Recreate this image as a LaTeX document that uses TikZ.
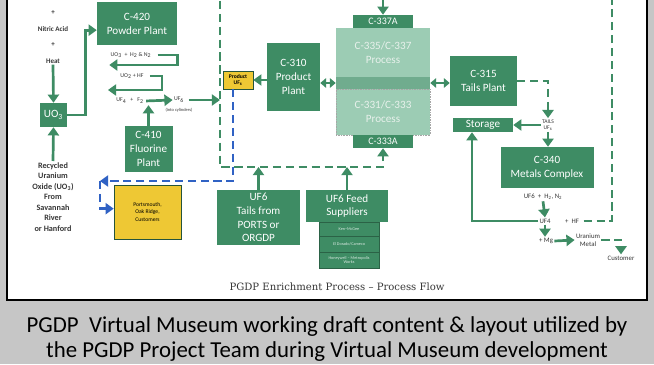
\documentclass[tikz,border=0pt]{standalone}
\usepackage{fontspec}
\setmainfont{Carlito}
\setsansfont{Carlito}
\newfontfamily\slabfont{DejaVu Serif}
\usetikzlibrary{arrows.meta,calc}
\definecolor{pggreen}{RGB}{62,140,100}
\definecolor{pglight}{RGB}{156,204,180}
\definecolor{pgband}{RGB}{112,172,142}
\definecolor{pgyel}{RGB}{238,200,52}
\definecolor{pgblue}{RGB}{48,98,196}
\definecolor{pgback}{RGB}{198,198,198}
\definecolor{pgink}{RGB}{55,55,55}
\tikzset{
  gbox/.style={
    fill=pggreen, text=white, align=center, inner sep=0pt,
    font=\fontsize{9.5}{12}\selectfont
  },
  pbox/.style={gbox, fill=pglight, text=white!88!pggreen},
  sbox/.style={
    gbox, draw=pggreen!70!black, line width=0.4pt, text=white!80!pggreen,
    minimum width=18mm, font=\fontsize{3.6}{4}\selectfont
  },
  ybox/.style={
    fill=pgyel, draw=pggreen!60!black, line width=0.5pt, align=center,
    inner sep=0pt, font=\fontsize{4.8}{6.4}\selectfont
  },
  lbl/.style={text=pgink, align=center, inner sep=1pt, font=\bfseries\fontsize{6}{7}\selectfont},
  chem/.style={text=pgink, align=center, inner sep=1pt, font=\fontsize{5}{5.6}\selectfont},
  mchem/.style={chem, font=\fontsize{5.8}{6.6}\selectfont},
  arr/.style={-{Triangle[length=7pt,width=9.5pt]}, draw=pggreen, line width=2.3pt},
  darr/.style={arr, dash pattern=on 7pt off 4pt},
  dline/.style={draw=pggreen, line width=2.3pt, dash pattern=on 7pt off 4pt},
  barr/.style={-{Triangle[length=7pt,width=9.5pt]}, draw=pgblue, line width=2.3pt, dash pattern=on 7pt off 4pt},
  xarr/.style={{Triangle[length=5pt,width=8pt]}-{Triangle[length=5pt,width=8pt]}, draw=pggreen, line width=2.3pt}
}
\begin{document}
\begin{tikzpicture}[x=0.3mm, y=-0.3mm]
  \useasboundingbox (0,0) rectangle (654,364);
  \clip (0,0) rectangle (654,364);
  \fill[pgback] (0,0) rectangle (654,364);
  \draw[line width=1.6pt, fill=white] (7,-20) rectangle (647,300);

  % uranium oxide feed
  \node[lbl] (plusa) at (53,13) {+};
  \node[lbl] (nitric) at (53,29) {Nitric Acid};
  \node[lbl] (plusb) at (53,45) {+};
  \node[lbl] (heat) at (53,61) {Heat};
  \node[gbox, minimum width=8.1mm, minimum height=7.2mm] (uo3) at (53.5,115) {UO\textsubscript{3}};
  \node[lbl, anchor=north, font=\bfseries\fontsize{7}{9}\selectfont] (recyc) at (53,161)
    {Recycled\\Uranium\\Oxide (UO\textsubscript{3})\\From\\Savannah\\River\\or Hanford};

  \node[gbox, minimum width=24mm, minimum height=12.9mm] (c420) at (137,23.5) {C-420\\Powder Plant};
  \node[gbox, minimum width=14.4mm, minimum height=13.8mm] (c410) at (148.5,149) {C-410\\Fluorine\\Plant};
  \node[chem] (ua) at (131,55) {UO\textsubscript{3}\ \ +\ \ H\textsubscript{2} \& N\textsubscript{2}};
  \node[chem] (ub) at (132,76) {UO\textsubscript{2}\ +\ HF};
  \node[chem] (uf4) at (130,101) {UF\textsubscript{4}\ \ \ +\ \ \ F\textsubscript{2}};
  \node[chem] (uf6) at (179,100) {UF\textsubscript{6}};
  \node[chem, font=\fontsize{3.8}{4}\selectfont] (cyl) at (179,110) {(into cylinders)};

  % cascade
  \node[gbox, minimum width=18mm, minimum height=3.9mm, font=\fontsize{8.5}{10}\selectfont] (c337a) at (383,21.5) {C-337A};
  \node[pbox, minimum width=28.2mm, minimum height=14.7mm] (ptop) at (383,52.5) {C-335/C-337\\Process};
  \node[fill=pgband, minimum width=28.2mm, minimum height=3.6mm, inner sep=0pt] (band) at (383,83) {};
  \node[pbox, draw=black!35, densely dotted, minimum width=28.2mm, minimum height=13.8mm] (pbot) at (383,112) {C-331/C-333\\Process};
  \node[gbox, minimum width=18mm, minimum height=3.9mm, font=\fontsize{8.5}{10}\selectfont] (c333a) at (383,141.5) {C-333A};

  \node[gbox, minimum width=15.9mm, minimum height=20.1mm] (c310) at (293.5,77) {C-310\\Product\\Plant};
  \node[ybox, minimum width=9mm, minimum height=5.4mm, font=\bfseries\fontsize{4.8}{5.4}\selectfont] (prod) at (238,80) {Product\\UF\textsubscript{6}};
  \node[ybox, minimum width=20.1mm, minimum height=16.2mm] (ports) at (147.5,212) {Portsmouth,\\Oak Ridge,\\Customers};

  \node[gbox, minimum width=24.9mm, minimum height=16.5mm, font=\fontsize{9.5}{11.7}\selectfont] (tails) at (258.5,217.5) {UF6\\Tails from\\PORTS or\\ORGDP};
  \node[gbox, minimum width=24.6mm, minimum height=9.6mm, font=\fontsize{9.5}{11}\selectfont] (feed) at (347,206) {UF6 Feed\\Suppliers};
  \node[sbox, minimum height=4.2mm] (kerr) at (349,229) {Kerr-McGee};
  \node[sbox, minimum height=4.8mm] (eldo) at (349,244) {El Dorado/Cameco};
  \node[sbox, minimum height=4.8mm] (honey) at (349,260) {Honeywell -- Metropolis\\Works};

  % tails side
  \node[gbox, minimum width=20.1mm, minimum height=15mm] (c315) at (483.5,81) {C-315\\Tails Plant};
  \node[gbox, minimum width=18mm, minimum height=4.2mm] (storage) at (483,125) {Storage};
  \node[chem, font=\fontsize{4.8}{5.2}\selectfont] (tailsuf) at (548,125) {TAILS\\UF\textsubscript{6}};
  \node[gbox, minimum width=27.9mm, minimum height=12.3mm] (c340) at (547,167.5) {C-340\\Metals Complex};
  \node[mchem] (uf6h) at (543,197) {UF6\ \ +\ \ H\textsubscript{2}, N\textsubscript{2}};
  \node[mchem] (uf4t) at (545,221) {UF4};
  \node[mchem] (hf) at (572,221) {+\ \ HF};
  \node[mchem] (mg) at (546,241) {+\ Mg};
  \node[mchem] (umetal) at (588,240) {Uranium\\Metal};
  \node[mchem] (cust) at (621,258) {Customer};

  \node[font=\slabfont\fontsize{8.6}{10}\selectfont, text=pgink] (title) at (337,287) {PGDP Enrichment Process – Process Flow};
  \node[font=\fontsize{19.5}{22}\selectfont] (capa) at (327,327) {PGDP\ \ Virtual Museum working draft content \& layout utilized by};
  \node[font=\fontsize{19.5}{22}\selectfont] (capb) at (327,352) {the PGDP Project Team during Virtual Museum development};

  \coordinate (ltop) at (220,-12);
  \coordinate (rtop) at (612,-12);
  \coordinate (lbot) at (220,167);
  \coordinate (bcorner) at (100,181);

  % connectors
  \draw[arr] (heat.south) -- (uo3.north);
  \draw[arr] (recyc.north) -- (uo3.south);
  \draw[arr] (uo3.east) -- ++(18,0) |- ([yshift=-2mm]c420.west);
  \draw[arr] ([xshift=1.5mm]ua.east) -- (ua.east -| c420.east) -- ++(0,10) -- ++(-68,0);
  \draw[arr] ([xshift=1.5mm]ub.east) -- ++(12,0) -- ++(0,14) -- ++(-54,0);
  \draw[arr, shorten <=1pt] (uf4.east) -- (uf6.west);
  \draw[arr] (c410.north) -- (c410.north |- uf4.south);
  \draw[arr] ([xshift=1mm]uf6.east) -- (uf6 -| ltop);

  \draw[darr] (ltop) -- (lbot) -| (c333a.south);
  \draw[darr] ([xshift=1mm]hf.east) -- (hf -| rtop) -- (rtop) -- (ltop -| c337a) -- (c337a.north);
  \draw[dline] (ltop -| c337a) -- (ltop);
  \draw[arr] (tails.north) -- (tails.north |- lbot);
  \draw[arr] (feed.north) -- (feed.north |- lbot);

  \draw[arr] (c310.west |- prod.east) -- (prod.east);
  \draw[xarr] (band.west) -- (band.west -| c310.east);
  \draw[xarr] (band.east) -- (band.east -| c315.west);
  \draw[barr] ([xshift=-1.5mm]prod.south) |- (bcorner);
  \draw[barr] (bcorner) |- ([yshift=1mm]ports.west);

  \draw[darr] (c315.east) -| (tailsuf.north);
  \draw[arr] (tailsuf.west) -- (storage.east);
  \draw[arr] (tailsuf.south) -- (tailsuf.south |- c340.north);
  \draw[arr] (uf6h.south) -- (uf4t.north);
  \draw[arr] (uf4t.west) -| ([xshift=-3.3mm]storage.south);
  \draw[arr] (uf4t.south) -- (uf4t.south |- mg.north);
  \draw[arr] (mg.east) -- (umetal.west);
  \draw[darr] (umetal.east) -| (cust.north);
\end{tikzpicture}
\end{document}
